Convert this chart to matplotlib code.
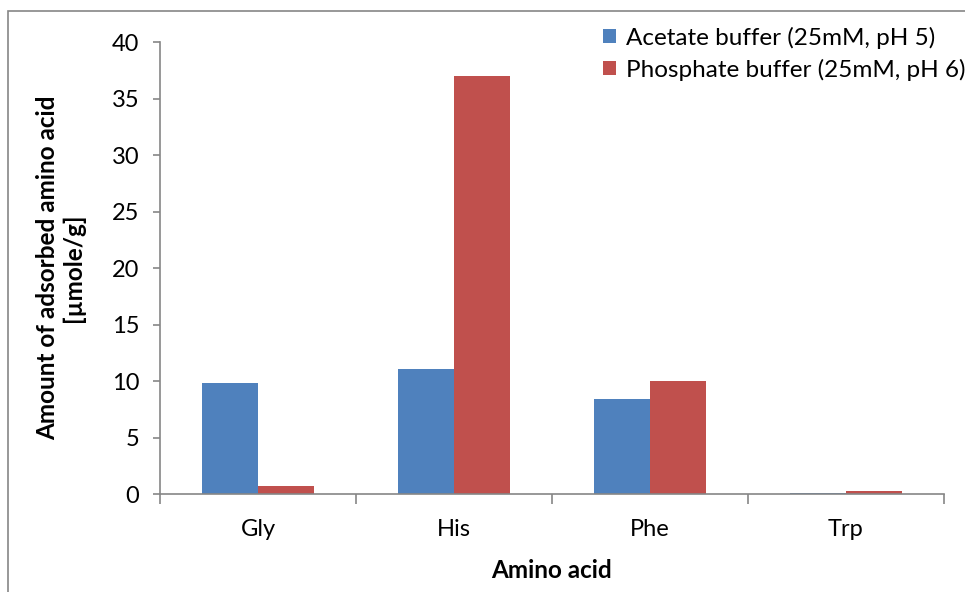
import numpy as np
import matplotlib.pyplot as plt
from matplotlib.patches import Rectangle

amino_acids = ['Gly', 'His', 'Phe', 'Trp']
acetate = [9.82, 11.08, 8.42, 0.12]
phosphate = [0.75, 36.95, 10.0, 0.3]
series_names = ['Acetate buffer (25mM, pH 5)', 'Phosphate buffer (25mM, pH 6)']

blue = '#4F81BD'
red = '#C0504D'
gray = '#868686'

plt.rcParams['font.family'] = ['Lato', 'DejaVu Sans']

fig = plt.figure(figsize=(9.65, 5.92), dpi=100)
ax = fig.add_axes([0.1658, 0.1655, 0.812, 0.7635])

# chart area frame, running off the right and bottom edges
fig.patches.append(Rectangle((8 / 965, -0.2), 2.0, 0.2 + 1 - 11 / 592,
                             transform=fig.transFigure, fill=False,
                             edgecolor=gray, linewidth=1.2))

x = np.arange(len(amino_acids))
w = 0.2857
ax.bar(x - w / 2, acetate, w, color=blue, label=series_names[0])
ax.bar(x + w / 2, phosphate, w, color=red, label=series_names[1])

ax.set_xlim(-0.5, len(amino_acids) - 0.5)
ax.set_ylim(0, 40)
ax.set_yticks(np.arange(0, 41, 5))

# category labels in the middle, ticks on the boundaries
ax.set_xticks(x)
ax.set_xticklabels(amino_acids)
ax.tick_params(axis='x', length=0, pad=18, labelsize=17)
ax.set_xticks(np.arange(-0.5, len(amino_acids)), minor=True)
ax.tick_params(axis='x', which='minor', length=7, color=gray, width=1.2)
ax.tick_params(axis='y', length=5, color=gray, width=1.2, labelsize=17, pad=10)

for side in ['top', 'right']:
    ax.spines[side].set_visible(False)
for side in ['left', 'bottom']:
    ax.spines[side].set_color(gray)
    ax.spines[side].set_linewidth(1.2)

ax.set_xlabel('Amino acid', fontsize=17.5, fontweight='bold', labelpad=14)
ax.set_ylabel('Amount of adsorbed amino acid\n[µmole/g]', fontsize=17.5,
              fontweight='bold', labelpad=19, linespacing=1.15)

ax.legend(loc='upper right', bbox_to_anchor=(1.028, 1.034), frameon=False,
          fontsize=17.5, handlelength=0.55, handleheight=0.55, handletextpad=0.4,
          labelspacing=0.4, borderaxespad=0, borderpad=0)

fig.savefig('out.png', dpi=100)
